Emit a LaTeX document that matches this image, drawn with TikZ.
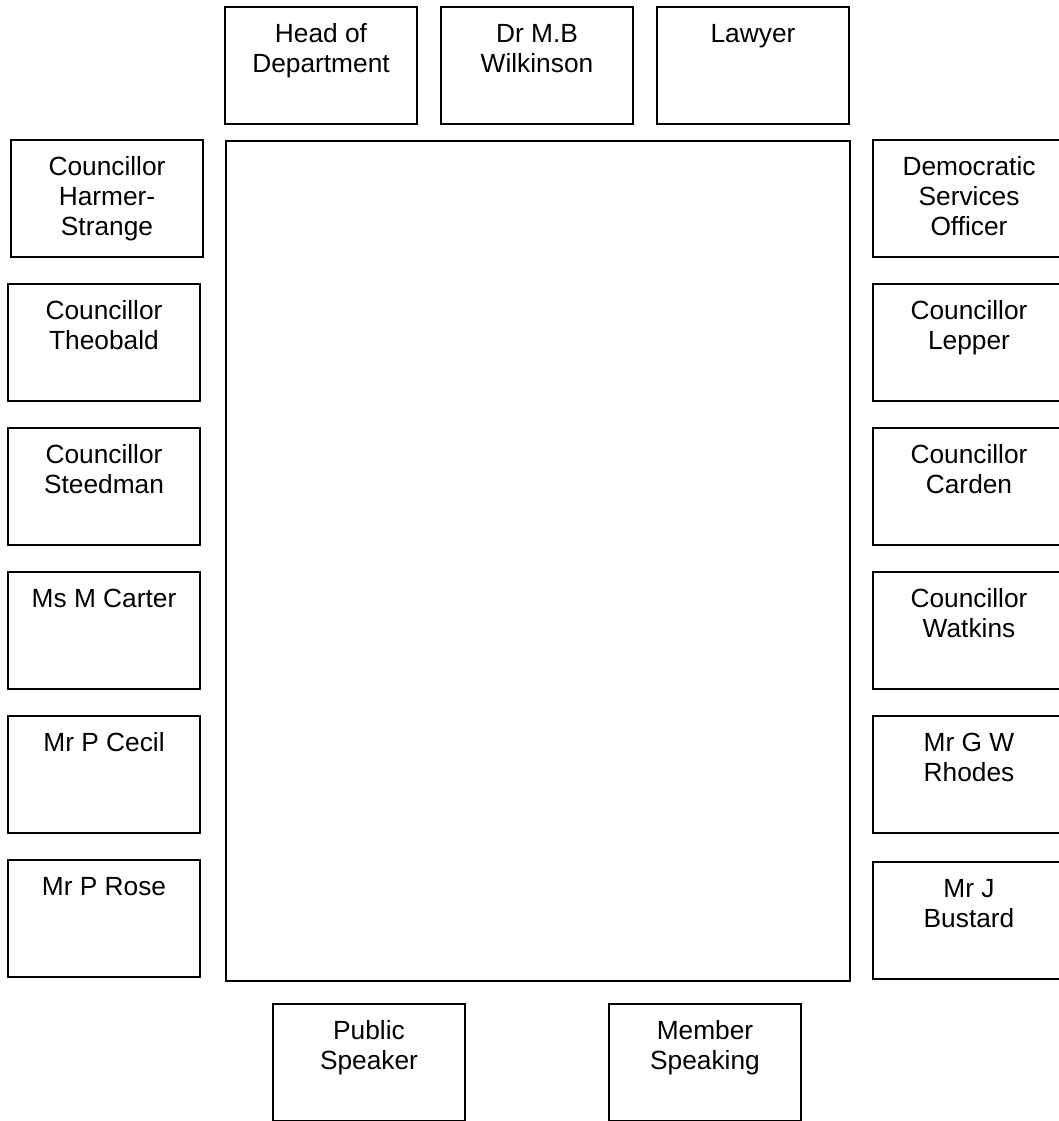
\documentclass[tikz,border=0pt]{standalone}
\usepackage{fontspec}
\setmainfont{Liberation Sans}
\begin{document}
\begin{tikzpicture}[x=1pt,y=-1pt,
  seat/.style={draw, line width=1.6pt, minimum width=192pt, minimum height=117pt, inner sep=0pt, outer sep=0pt, anchor=north west},
  lbl/.style={anchor=north, align=center, inner sep=0pt, font=\fontsize{26.3}{30}\selectfont}]
\useasboundingbox (0,0) rectangle (1059,1121);
% table
\node[draw, line width=2pt, minimum width=624pt, minimum height=840pt, inner sep=0pt, anchor=north west] (table) at (225,140) {};
% top row
\node[seat] (hod) at (225,7) {};
\node[lbl] (thod) at ([yshift=-14.7pt]hod.north) {\strut Head of\\Department};
\node[seat] (mbw) at (441,7) {};
\node[lbl] (tmbw) at ([yshift=-14.7pt]mbw.north) {\strut Dr M.B\\Wilkinson};
\node[seat] (law) at (657,7) {};
\node[lbl] (tlaw) at ([yshift=-14.7pt]law.north) {\strut Lawyer};
% left column
\node[seat] (l1) at (11,140) {};
\node[lbl] (tl1) at ([yshift=-14.7pt]l1.north) {\strut Councillor\\Harmer-\\Strange};
\node[seat] (l2) at (8,284) {};
\node[lbl] (tl2) at ([yshift=-14.7pt]l2.north) {\strut Councillor\\Theobald};
\node[seat] (l3) at (8,428) {};
\node[lbl] (tl3) at ([yshift=-14.7pt]l3.north) {\strut Councillor\\Steedman};
\node[seat] (l4) at (8,572) {};
\node[lbl] (tl4) at ([yshift=-14.7pt]l4.north) {\strut Ms M Carter};
\node[seat] (l5) at (8,716) {};
\node[lbl] (tl5) at ([yshift=-14.7pt]l5.north) {\strut Mr P Cecil};
\node[seat] (l6) at (8,860) {};
\node[lbl] (tl6) at ([yshift=-14.7pt]l6.north) {\strut Mr P Rose};
% right column
\node[seat] (r1) at (873,140) {};
\node[lbl] (tr1) at ([yshift=-14.7pt]r1.north) {\strut Democratic\\Services\\Officer};
\node[seat] (r2) at (873,284) {};
\node[lbl] (tr2) at ([yshift=-14.7pt]r2.north) {\strut Councillor\\Lepper};
\node[seat] (r3) at (873,428) {};
\node[lbl] (tr3) at ([yshift=-14.7pt]r3.north) {\strut Councillor\\Carden};
\node[seat] (r4) at (873,572) {};
\node[lbl] (tr4) at ([yshift=-14.7pt]r4.north) {\strut Councillor\\Watkins};
\node[seat] (r5) at (873,716) {};
\node[lbl] (tr5) at ([yshift=-14.7pt]r5.north) {\strut Mr G W\\Rhodes};
\node[seat] (r6) at (873,862) {};
\node[lbl] (tr6) at ([yshift=-14.7pt]r6.north) {\strut Mr J\\Bustard};
% bottom row
\node[seat] (ps) at (273,1004) {};
\node[lbl] (tps) at ([yshift=-14.7pt]ps.north) {\strut Public\\Speaker};
\node[seat] (ms) at (609,1004) {};
\node[lbl] (tms) at ([yshift=-14.7pt]ms.north) {\strut Member\\Speaking};
\end{tikzpicture}
\end{document}
